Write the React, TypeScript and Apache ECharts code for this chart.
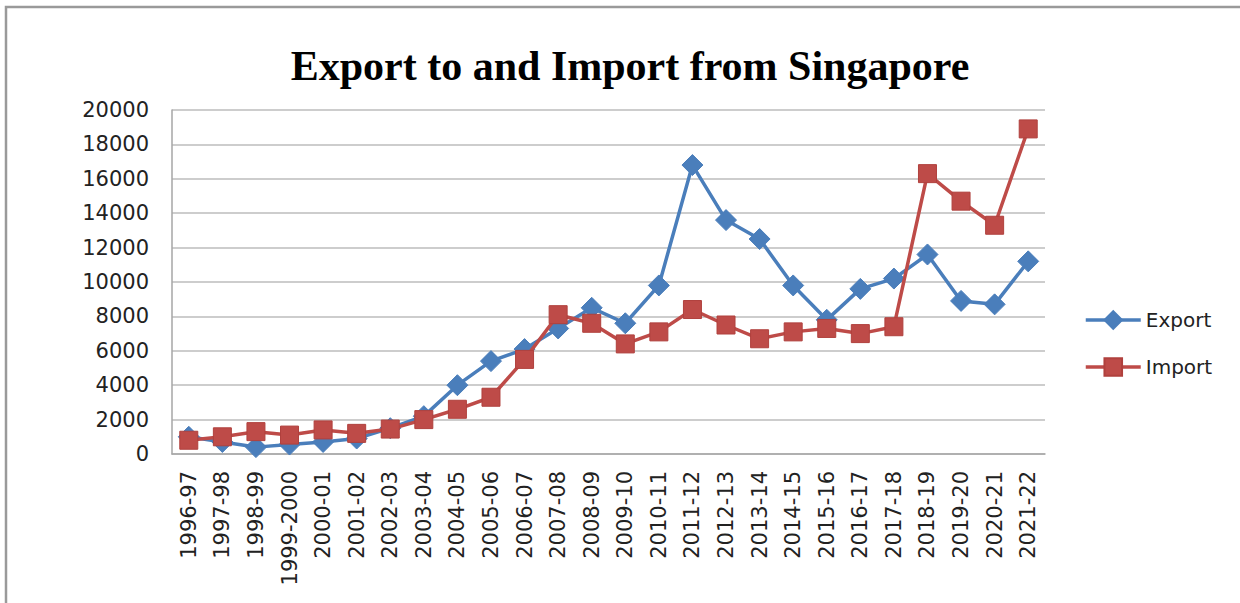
import React, { useEffect, useRef } from "react";
import * as echarts from "echarts";

const years = [
  "1996-97", "1997-98", "1998-99", "1999-2000", "2000-01", "2001-02", "2002-03",
  "2003-04", "2004-05", "2005-06", "2006-07", "2007-08", "2008-09", "2009-10",
  "2010-11", "2011-12", "2012-13", "2013-14", "2014-15", "2015-16", "2016-17",
  "2017-18", "2018-19", "2019-20", "2020-21", "2021-22",
];

const exportValues = [
  1000, 700, 400, 550, 700, 900, 1500, 2200, 4000, 5400, 6100, 7300, 8500, 7600,
  9800, 16800, 13600, 12500, 9800, 7800, 9600, 10200, 11600, 8900, 8700, 11200,
];

const importValues = [
  800, 1000, 1300, 1100, 1400, 1200, 1450, 2000, 2600, 3300, 5500, 8100, 7600, 6400,
  7100, 8400, 7500, 6700, 7100, 7300, 7000, 7400, 16300, 14700, 13300, 18900,
];

const titleText = "Export to and Import from Singapore";

const BLUE = "#4A7EBB";
const RED = "#BE4B48";

export default function App() {
  const ref = useRef<HTMLDivElement>(null);

  useEffect(() => {
    if (!ref.current) return;
    const chart = echarts.init(ref.current, null, { renderer: "svg" });
    chart.setOption({
      animation: false,
      backgroundColor: "#ffffff",
      title: {
        text: titleText,
        left: 625,
        top: 40,
        textAlign: "center",
        textStyle: {
          fontFamily: "Liberation Serif",
          fontWeight: "bold",
          fontSize: 42,
          color: "#000000",
        },
      },
      graphic: [
        {
          type: "rect",
          shape: { x: 6, y: 7, width: 1300, height: 700 },
          style: { fill: "none", stroke: "#9a9a9a", lineWidth: 2.5 },
          silent: true,
        },
      ],
      legend: {
        orient: "vertical",
        left: 1084,
        top: 310,
        padding: 0,
        itemWidth: 55,
        itemHeight: 22,
        itemGap: 27,
        lineStyle: { width: 3.5 },
        textStyle: {
          fontFamily: "DejaVu Sans",
          fontSize: 20,
          color: "#222222",
        },
        data: ["Export", "Import"],
      },
      grid: {
        left: 172,
        right: 195,
        top: 110,
        bottom: 149,
        containLabel: false,
      },
      xAxis: {
        type: "category",
        data: years,
        boundaryGap: true,
        axisLine: { show: true, lineStyle: { color: "#a6a6a6", width: 1.5 } },
        axisTick: { show: false },
        axisLabel: {
          rotate: 90,
          interval: 0,
          margin: 17,
          fontFamily: "DejaVu Sans",
          fontSize: 21,
          color: "#222222",
        },
      },
      yAxis: {
        type: "value",
        min: 0,
        max: 20000,
        interval: 2000,
        axisLine: { show: true, lineStyle: { color: "#a6a6a6", width: 1.5 } },
        axisTick: { show: false },
        splitLine: { show: true, lineStyle: { color: "#bdbdbd", width: 1.5 } },
        axisLabel: {
          margin: 23,
          fontFamily: "DejaVu Sans",
          fontSize: 21,
          color: "#222222",
          formatter: (v: number) => String(v),
        },
      },
      series: [
        {
          name: "Export",
          type: "line",
          data: exportValues,
          symbol: "diamond",
          symbolSize: 21,
          lineStyle: { color: BLUE, width: 3.5 },
          itemStyle: { color: BLUE, borderColor: BLUE, borderWidth: 1 },
          z: 2,
        },
        {
          name: "Import",
          type: "line",
          data: importValues,
          symbol: "rect",
          symbolSize: 18,
          lineStyle: { color: RED, width: 3.5 },
          itemStyle: { color: RED, borderColor: "#B0403D", borderWidth: 1 },
          z: 3,
        },
      ],
    });
    return () => chart.dispose();
  }, []);

  return (
    <div
      ref={ref}
      style={{ position: "absolute", left: 0, top: 0, width: 1240, height: 603, background: "#fff" }}
    />
  );
}
